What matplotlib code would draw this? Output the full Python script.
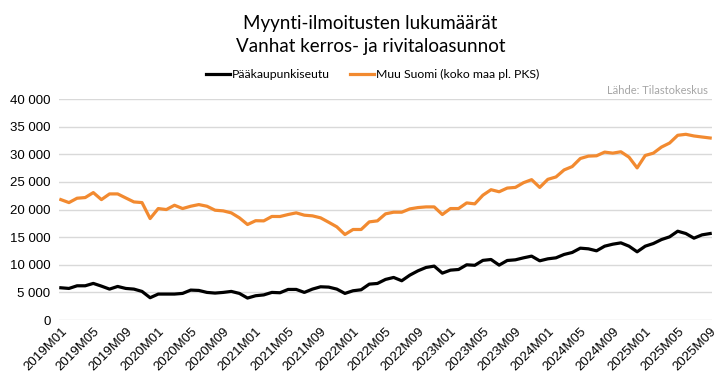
import matplotlib
matplotlib.use("Agg")
import matplotlib.pyplot as plt
from matplotlib.ticker import FuncFormatter

# months 2019M01 .. 2025M09
months = ["%dM%02d" % (y, m) for y in range(2019, 2026) for m in range(1, 13)][:81]

pks = [5840, 5720, 6200, 6200, 6630, 6140, 5600, 6080, 5720, 5600,
       5180, 4040, 4700, 4700, 4700, 4820, 5420, 5360, 5000, 4880,
       5000, 5180, 4820, 3980, 4400, 4550, 5000, 4940, 5540, 5540,
       5000, 5600, 6020, 5960, 5600, 4820, 5300, 5480, 6500, 6620,
       7350, 7710, 7110, 8130, 8910, 9520, 9760, 8490, 9030, 9150,
       10000, 9910, 10800, 10960, 9940, 10780, 10900, 11260, 11570, 10720,
       11080, 11260, 11870, 12230, 13010, 12890, 12530, 13370, 13730, 13970,
       13370, 12350, 13370, 13850, 14570, 15060, 16080, 15660, 14820, 15420,
       15660]

muu = [21800, 21260, 22050, 22170, 23070, 21800, 22830, 22830, 22100, 21380,
       21260, 18370, 20180, 20000, 20780, 20180, 20600, 20900, 20600, 19880,
       19760, 19400, 18500, 17290, 17980, 17950, 18750, 18740, 19100, 19400,
       18980, 18860, 18500, 17700, 16870, 15480, 16390, 16390, 17770, 17950,
       19220, 19520, 19520, 20120, 20360, 20480, 20480, 19100, 20180, 20180,
       21200, 21030, 22600, 23590, 23220, 23890, 24010, 24860, 25410, 24010,
       25470, 25900, 27170, 27780, 29240, 29670, 29730, 30400, 30210, 30460,
       29480, 27540, 29790, 30210, 31310, 32040, 33440, 33620, 33320, 33130,
       32950]

series_names = ["Pääkaupunkiseutu", "Muu Suomi (koko maa pl. PKS)"]

fig = plt.figure(figsize=(7.26, 3.81), dpi=100)
ax = fig.add_axes([0.081, 0.160, 0.900, 0.580])

x = list(range(len(months)))
ax.plot(x, pks, color="black", lw=2.3, label=series_names[0])
ax.plot(x, muu, color="#F28A30", lw=2.3, label=series_names[1])

ax.set_ylim(0, 40000)
ax.set_yticks(range(0, 40001, 5000))
ax.yaxis.set_major_formatter(FuncFormatter(lambda v, p: ("%d" % v) if v < 1000 else "{:,}".format(int(v)).replace(",", " ")))
ax.set_xlim(-0.25, 80.25)
ax.set_xticks(x[::4])
ax.set_xticklabels(months[::4], rotation=45, ha="right", rotation_mode="anchor",
                   family="Liberation Sans", fontsize=9.5)
for lab in ax.get_yticklabels():
    lab.set_family("Liberation Sans")
    lab.set_fontsize(9.5)

ax.grid(axis="y", color="#D9D9D9", lw=1)
ax.set_axisbelow(True)
for s in ax.spines.values():
    s.set_visible(False)
ax.tick_params(length=0, pad=6)
ax.tick_params(axis="x", pad=4)

fig.text(0.51, 0.938, "Myynti-ilmoitusten lukumäärät", ha="center", va="center",
         family="Lato", fontsize=13.5)
fig.text(0.51, 0.878, "Vanhat kerros- ja rivitaloasunnot", ha="center", va="center",
         family="Lato", fontsize=13.5)
fig.legend(loc="center", bbox_to_anchor=(0.513, 0.805), ncol=2, frameon=False,
           prop={"family": "Lato", "size": 8.8}, handlelength=2.0, handletextpad=0.15,
           columnspacing=1.6)
fig.text(0.975, 0.763, "Lähde: Tilastokeskus", ha="right", va="center",
         family="Lato", fontsize=8, color="#A6A6A6")

fig.savefig("out.png", dpi=100)
